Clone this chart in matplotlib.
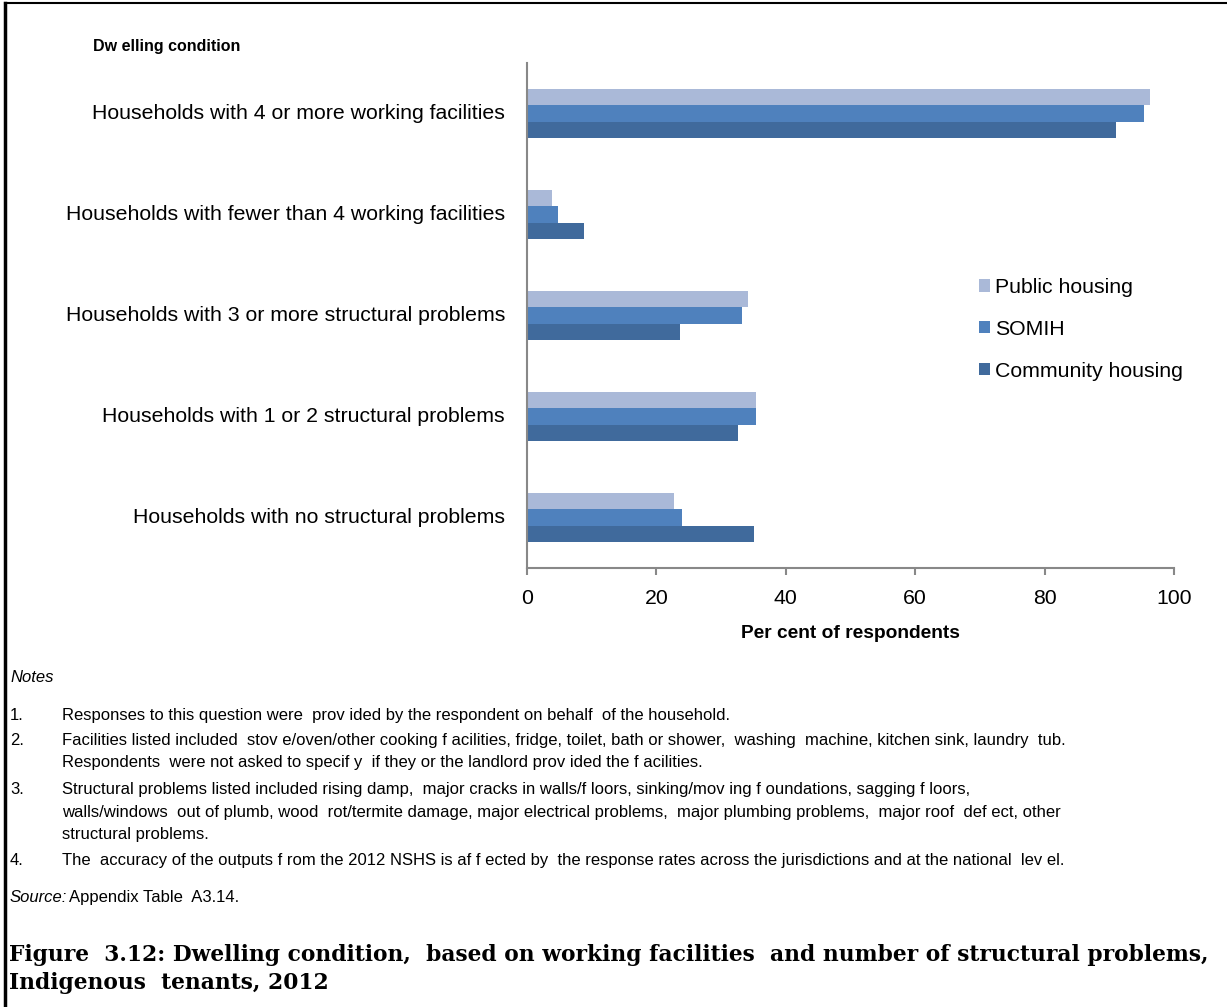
import matplotlib
matplotlib.use("Agg")
import matplotlib.pyplot as plt
from matplotlib.patches import Patch
from matplotlib.lines import Line2D
import numpy as np

plt.rcParams['font.family'] = ['Liberation Sans', 'DejaVu Sans']

categories = [
    "Households with 4 or more working facilities",
    "Households with fewer than 4 working facilities",
    "Households with 3 or more structural problems",
    "Households with 1 or 2 structural problems",
    "Households with no structural problems",
]
series_names = ["Public housing", "SOMIH", "Community housing"]
public_housing = [96.3, 3.9, 34.2, 35.4, 22.7]
somih = [95.4, 4.8, 33.2, 35.4, 24.0]
community_housing = [91.0, 8.8, 23.6, 32.6, 35.1]
x_ticks = [0, 20, 40, 60, 80, 100]

colors = ["#AAB9D8", "#4F81BD", "#406A9C"]

W, H = 1227, 1007
fig = plt.figure(figsize=(W / 100, H / 100), dpi=100)


def fx(px):
    return px / W


def fy(py):
    return 1 - py / H


ax = fig.add_axes([fx(527), fy(568), fx(1174) - fx(527), fy(63) - fy(568)])

pos = np.arange(len(categories))
h = 0.165
for offset, vals, col in zip((-h, 0.0, h), (public_housing, somih, community_housing), colors):
    ax.barh(pos + offset, vals, height=h, color=col, edgecolor="none")

ax.set_ylim(4.5, -0.5)
ax.set_xlim(0, 100)
ax.set_xticks(x_ticks)
ax.set_xticklabels([str(t) for t in x_ticks], fontsize=15.3)
ax.set_yticks([])
for s in ("top", "right"):
    ax.spines[s].set_visible(False)
for s in ("left", "bottom"):
    ax.spines[s].set_color("#888888")
    ax.spines[s].set_linewidth(1.5)
ax.tick_params(axis="x", direction="out", length=5, width=1.5, color="#888888", pad=10)

# Category labels, right-aligned against the value axis
for i, cat in enumerate(categories):
    ax.text(-3.4, i, cat, ha="right", va="center", fontsize=15.3,
            transform=ax.transData, clip_on=False)

ax.set_xlabel("Per cent of respondents", fontsize=13.8, fontweight="bold", labelpad=12)

fig.text(fx(93), fy(46), "Dw elling condition", fontsize=11.5, fontweight="bold",
         ha="left", va="center")

handles = [Patch(facecolor=c, edgecolor="none") for c in colors]
fig.legend(handles, series_names, loc="upper left", bbox_to_anchor=(fx(979), fy(278)),
           frameon=False, fontsize=15.3, handlelength=0.5, handleheight=0.5,
           handletextpad=0.25, labelspacing=1.08, borderaxespad=0, borderpad=0)

# Notes block
note_fs = 12.0
fig.text(fx(10), fy(682), "Notes", fontsize=note_fs, style="italic", ha="left", va="baseline")
notes = [
    ("1.", ["Responses to this question were  prov ided by the respondent on behalf  of the household."], 720),
    ("2.", ["Facilities listed included  stov e/oven/other cooking f acilities, fridge, toilet, bath or shower,  washing  machine, kitchen sink, laundry  tub.",
            "Respondents  were not asked to specif y  if they or the landlord prov ided the f acilities."], 745),
    ("3.", ["Structural problems listed included rising damp,  major cracks in walls/f loors, sinking/mov ing f oundations, sagging f loors,",
            "walls/windows  out of plumb, wood  rot/termite damage, major electrical problems,  major plumbing problems,  major roof  def ect, other",
            "structural problems."], 794),
    ("4.", ["The  accuracy of the outputs f rom the 2012 NSHS is af f ected by  the response rates across the jurisdictions and at the national  lev el."], 865),
]
line_gap = 22.5
for num, lines, y0 in notes:
    fig.text(fx(10), fy(y0), num, fontsize=note_fs, ha="left", va="baseline")
    for k, line in enumerate(lines):
        fig.text(fx(62), fy(y0 + k * line_gap), line, fontsize=note_fs, ha="left", va="baseline")

fig.text(fx(10), fy(902), "Source:", fontsize=note_fs, style="italic", ha="left", va="baseline")
fig.text(fx(69), fy(902), "Appendix Table  A3.14.", fontsize=note_fs, ha="left", va="baseline")

title_font = dict(fontsize=15.7, fontweight="bold", family=["DejaVu Serif"],
                  ha="left", va="center")
fig.text(fx(9), fy(955), "Figure  3.12: Dwelling condition,  based on working facilities  and number of structural problems,",
         **title_font)
fig.text(fx(9), fy(983), "Indigenous  tenants, 2012", **title_font)

# Page frame: left and top rules
fig.add_artist(Line2D([fx(5), fx(5)], [0, fy(3)], color="black", linewidth=2.5))
fig.add_artist(Line2D([fx(5), 1], [fy(3), fy(3)], color="black", linewidth=1.5))

fig.savefig("out.png", dpi=100)
